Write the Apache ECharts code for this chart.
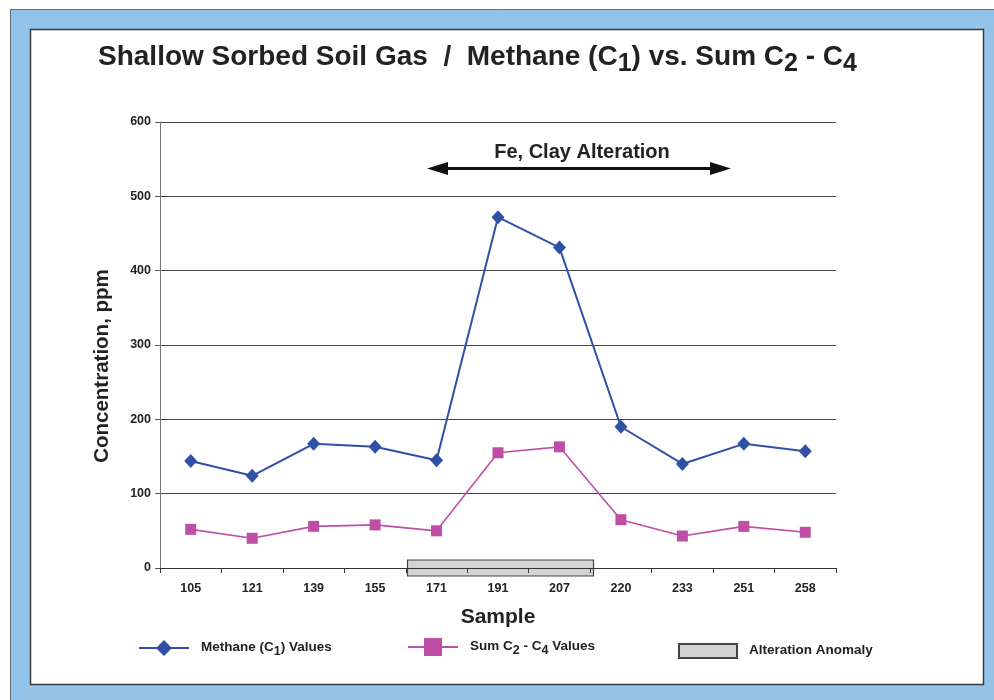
<!DOCTYPE html>
<html>
<head>
<meta charset="utf-8">
<script src="https://cdn.jsdelivr.net/npm/echarts@6/dist/echarts.min.js"></script>
<style>
  html, body { margin: 0; padding: 0; background: #ffffff; }
  #chart { width: 994px; height: 700px; }
</style>
</head>
<body>
<div id="chart"></div>
<script>
// Sample locations along the traverse
const samples = ['105', '121', '139', '155', '171', '191', '207', '220', '233', '251', '258'];
// Methane (C1) concentration, ppm
const methaneValues = [144, 124, 167, 163, 145, 472, 431, 190, 140, 167, 157];
// Sum of C2 - C4 concentration, ppm
const sumC2C4Values = [52, 40, 56, 58, 50, 155, 163, 65, 43, 56, 48];
// Samples bounding the Fe / clay alteration anomaly
const alterationRange = ['171', '207'];
// Y axis tick range
const yTicks = { min: 0, max: 600, step: 100 };

const FONT = '"Liberation Sans", Arial, Helvetica, sans-serif';
const BLUE = '#3050a6';
const MAGENTA = '#bf4fa6';
const DARK = '#222222';

const chart = echarts.init(document.getElementById('chart'));

const richText = {
  t: { fontFamily: FONT, fontWeight: 'bold', fontSize: 13.5, color: DARK, lineHeight: 15, verticalAlign: 'top' },
  s: { fontFamily: FONT, fontWeight: 'bold', fontSize: 12.5, color: DARK, lineHeight: 15, verticalAlign: 'top', padding: [5, 0, 0, 0] }
};

function legendLabel(name) {
  if (name === 'Methane') return '{t|Methane (C}{s|1}{t|) Values}';
  if (name === 'Sum') return '{t|Sum C}{s|2}{t| - C}{s|4}{t| Values}';
  return '{t|Alteration Anomaly}';
}

// Legend glyphs: a horizontal stroke with the series marker at its centre
const diamondIcon = 'path://M0,7L18,7L25,0L32,7L50,7L50,9L32,9L25,16L18,9L0,9Z';
const squareIcon = 'path://M0,8L16,8L16,0L34,0L34,8L50,8L50,10L34,10L34,18L16,18L16,10L0,10Z';

const legendBase = {
  orient: 'horizontal',
  padding: 0,
  itemWidth: 50,
  itemHeight: 16,
  formatter: legendLabel,
  selectedMode: false,
  textStyle: { rich: richText, padding: [0, 0, 0, 7] }
};

const option = {
  animation: false,
  backgroundColor: 'transparent',
  graphic: [
    {
      type: 'rect', z: -10, silent: true,
      shape: { x: 10.5, y: 9.5, width: 1000, height: 700 },
      style: { fill: '#94c3ea', stroke: '#6b6b6b', lineWidth: 1 }
    },
    {
      type: 'rect', z: -9, silent: true,
      shape: { x: 30.5, y: 29.5, width: 953, height: 655 },
      style: { fill: '#ffffff', stroke: '#3a3a3a', lineWidth: 1.5 }
    },
    // Double-headed arrow across the altered zone
    {
      type: 'group', z: 10, silent: true,
      children: [
        { type: 'line', shape: { x1: 440, y1: 168.5, x2: 718, y2: 168.5 }, style: { stroke: '#111', lineWidth: 3 } },
        { type: 'polygon', shape: { points: [[427, 168.5], [448, 162], [448, 175]] }, style: { fill: '#111' } },
        { type: 'polygon', shape: { points: [[731, 168.5], [710, 162], [710, 175]] }, style: { fill: '#111' } }
      ]
    },
    {
      type: 'text', z: 10, silent: true,
      style: { text: 'Fe, Clay Alteration', x: 582, y: 152, fill: DARK, font: 'bold 20px ' + FONT, textAlign: 'center', textVerticalAlign: 'middle' }
    },
    // Y axis title
    {
      type: 'text', z: 10, silent: true,
      x: 102, y: 366, rotation: Math.PI / 2,
      style: { text: 'Concentration, ppm', x: 0, y: 0, fill: DARK, font: 'bold 20.5px ' + FONT, textAlign: 'center', textVerticalAlign: 'middle' }
    }
  ],
  title: {
    text: '{t|Shallow Sorbed Soil Gas  /  Methane (C}{s|1}{t|) vs. Sum C}{s|2}{t| - C}{s|4}',
    left: 93,
    top: 38,
    textStyle: {
      rich: {
        t: { fontFamily: FONT, fontWeight: 'bold', fontSize: 28, color: DARK, lineHeight: 32, verticalAlign: 'top' },
        s: { fontFamily: FONT, fontWeight: 'bold', fontSize: 25, color: DARK, lineHeight: 32, verticalAlign: 'top', padding: [9, 0, 0, 0] }
      }
    }
  },
  legend: [
    Object.assign({}, legendBase, { data: [{ name: 'Methane', icon: diamondIcon }], left: 139, top: 640 }),
    Object.assign({}, legendBase, { data: [{ name: 'Sum', icon: squareIcon }], left: 408, top: 638, itemHeight: 18 }),
    Object.assign({}, legendBase, { data: [{ name: 'Alteration Anomaly', icon: 'rect' }], left: 678, top: 643, itemWidth: 58, itemHeight: 14 })
  ],
  grid: { left: 160, right: 158, top: 122, bottom: 132, containLabel: false },
  xAxis: {
    type: 'category',
    data: samples,
    boundaryGap: true,
    z: 5,
    name: 'Sample',
    nameLocation: 'middle',
    nameGap: 39,
    nameTextStyle: { fontFamily: FONT, fontWeight: 'bold', fontSize: 21, color: DARK },
    axisLine: { lineStyle: { color: '#333', width: 1 } },
    axisTick: { show: true, inside: false, length: 5, alignWithLabel: false, lineStyle: { color: '#333' } },
    axisLabel: { fontFamily: FONT, fontWeight: 'bold', fontSize: 12.5, color: DARK, margin: 14 },
    splitLine: { show: false }
  },
  yAxis: {
    type: 'value',
    min: yTicks.min,
    max: yTicks.max,
    interval: yTicks.step,
    axisLine: { show: true, lineStyle: { color: '#777', width: 1 } },
    axisTick: { show: true, length: 5, lineStyle: { color: '#555' } },
    axisLabel: { fontFamily: FONT, fontWeight: 'bold', fontSize: 12.5, color: DARK, margin: 9 },
    splitLine: { show: true, lineStyle: { color: '#444', width: 1 } }
  },
  series: [
    {
      name: 'Alteration Anomaly',
      type: 'custom',
      z: 1,
      itemStyle: { color: '#d3d3d3', borderColor: '#444', borderWidth: 1.2 },
      data: [[samples.indexOf(alterationRange[0]), samples.indexOf(alterationRange[1])]],
      encode: { x: [0, 1] },
      renderItem: function (params, api) {
        const bw = api.size([1, 0])[0];
        const a = api.coord([api.value(0), 0]);
        const b = api.coord([api.value(1), 0]);
        const x0 = a[0] - bw / 2 + 1;
        const x1 = b[0] + bw / 2 + 3;
        return {
          type: 'rect',
          shape: { x: Math.round(x0) + 0.5, y: a[1] - 8, width: Math.round(x1 - x0), height: 16 },
          style: { fill: '#d3d3d3', stroke: '#444', lineWidth: 1.2 }
        };
      }
    },
    {
      name: 'Methane',
      type: 'line',
      z: 4,
      data: methaneValues,
      symbol: 'diamond',
      symbolSize: [13, 14],
      itemStyle: { color: BLUE },
      lineStyle: { color: BLUE, width: 2 }
    },
    {
      name: 'Sum',
      type: 'line',
      z: 3,
      data: sumC2C4Values,
      symbol: 'rect',
      symbolSize: 11,
      itemStyle: { color: MAGENTA },
      lineStyle: { color: MAGENTA, width: 1.6 }
    }
  ]
};

chart.setOption(option);
</script>
</body>
</html>
